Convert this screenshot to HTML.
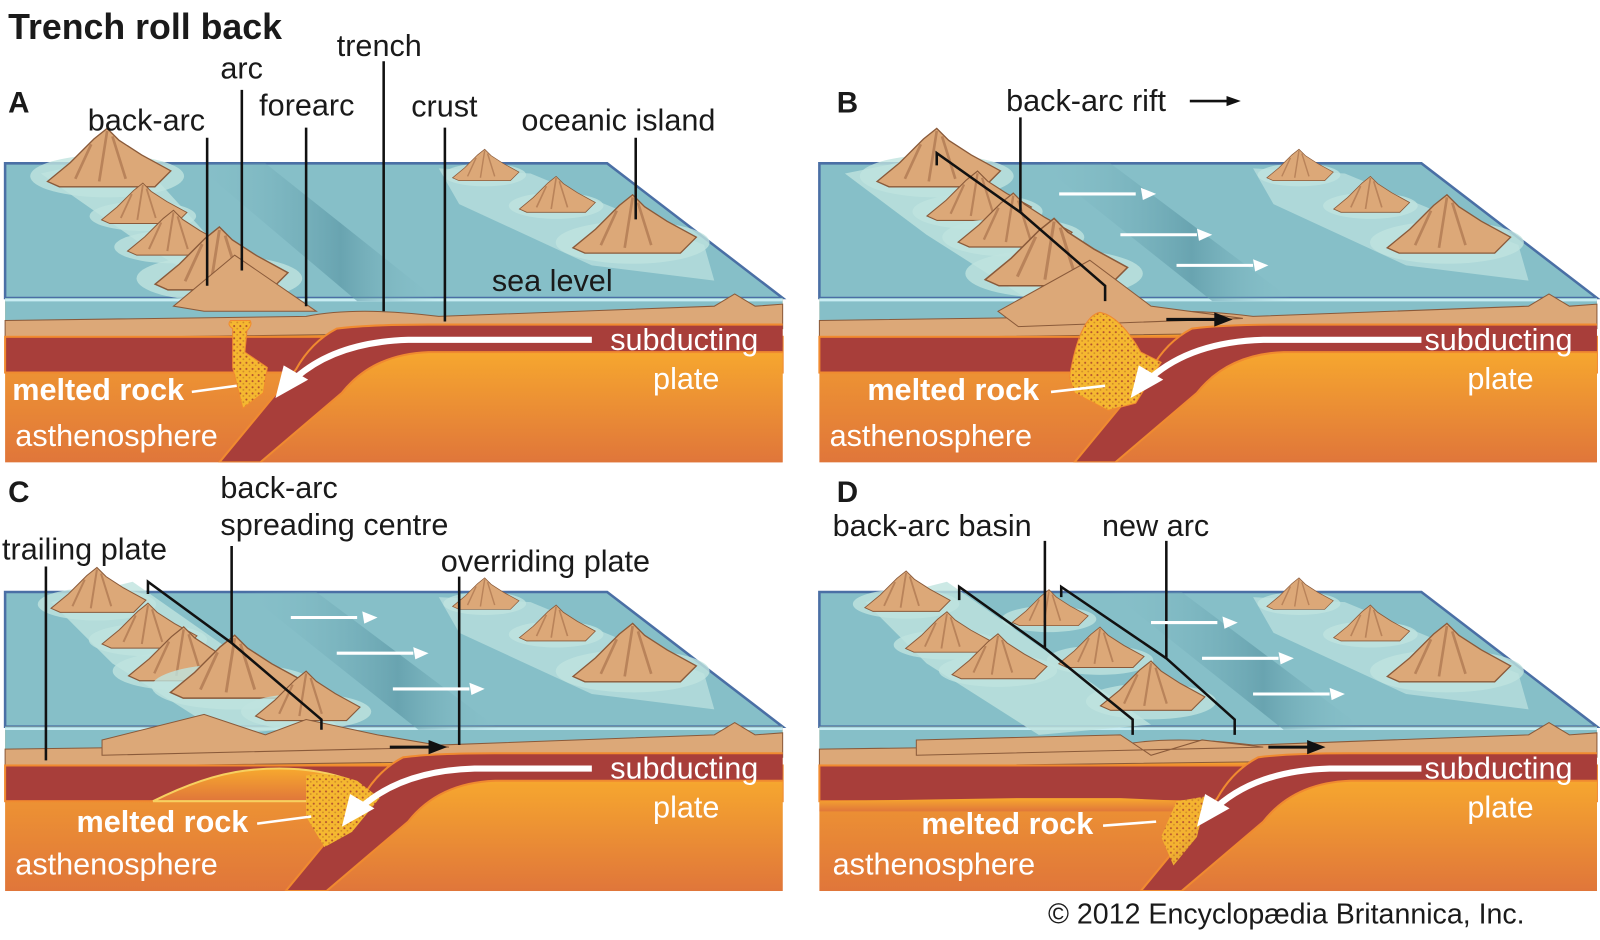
<!DOCTYPE html>
<html><head><meta charset="utf-8"><style>
html,body{margin:0;padding:0;background:#fff;}
svg{display:block}
text{font-family:"Liberation Sans",sans-serif;}
.lb{font-size:30px;fill:#1a1a1a}
.wt{font-size:30px;fill:#fff}
.wb{font-size:30px;fill:#fff;font-weight:bold}
.ld{stroke:#111;stroke-width:2.5;fill:none}
.pl{font-size:29px;font-weight:bold;fill:#1a1a1a}
.wa{stroke:#fff;stroke-width:6;fill:none}
</style></head><body>
<svg width="1600" height="940" viewBox="0 0 1568 921" preserveAspectRatio="none" xmlns="http://www.w3.org/2000/svg">
<defs>
<linearGradient id="ast" x1="0" y1="0" x2="0" y2="1"><stop offset="0" stop-color="#f7a92e"/><stop offset="1" stop-color="#e0763a"/></linearGradient>
<linearGradient id="trg" x1="0" y1="0" x2="1" y2="0"><stop offset="0" stop-color="#86bfc8" stop-opacity="0"/><stop offset="0.6" stop-color="#5c98a6"/><stop offset="1" stop-color="#86bfc8" stop-opacity="0"/></linearGradient>
<pattern id="spk" width="6" height="6" patternUnits="userSpaceOnUse">
  <rect width="6" height="6" fill="#f5b830"/><circle cx="1.5" cy="1.5" r="1" fill="#b4532e"/><circle cx="4.5" cy="4" r="0.9" fill="#d08a2a"/>
</pattern>
<clipPath id="pc"><rect x="5" y="0" width="762" height="453"/></clipPath>
<g id="base">
  <polygon points="5,160 595,160 767,292 5,292" fill="#86bfc8" stroke="#4a6fa5" stroke-width="2.5"/>
  <rect x="5" y="292" width="762" height="161" fill="url(#ast)"/>
  <rect x="5" y="292" width="762" height="30" fill="#86bfc8"/>
  <line x1="5" y1="294" x2="767" y2="294" stroke="#c8ecf2" stroke-width="2.5"/>
  <path d="M5,314 L300,310 Q350,300 430,310 L700,300 L720,288 L740,300 L767,298 L767,322 L5,332 Z" fill="#dca878" stroke="#8a5a3a" stroke-width="1"/>
  <rect x="5" y="330" width="762" height="35" fill="#a83e3a" stroke="#f08a30" stroke-width="2"/>
</g>
<g id="slab">
  <polygon points="330,340 900,340 900,453 240,453" fill="url(#ast)"/>
  <path d="M330,322 Q360,318 420,318 L900,318 L900,345 L420,345 Q365,347 335,385 L255,453 L215,453 L290,362 Q305,335 330,322 Z" fill="#a83e3a" stroke="#f08a30" stroke-width="2"/>
</g>
<g id="isl">
  <ellipse cx="0" cy="2" rx="58" ry="16" fill="#bfe3df" opacity="0.8"/>
  <path d="M-45,6 L-28,-8 L-10,-26 L0,-34 L9,-25 L26,-14 L48,-2 L36,10 L-36,10Z" fill="#dca878" stroke="#8a5a3a" stroke-width="1"/>
  <path d="M0,-32 L-6,6 M4,-28 L14,4 M-12,-22 L-24,4" stroke="#b9835a" stroke-width="2" fill="none"/>
</g>
<g id="ocean">
  <path d="M430,165 L520,170 L690,240 L700,275 L580,260 L450,200 Z" fill="#bfe3df" opacity="0.7"/>
  <use href="#isl" transform="translate(475,170) scale(0.7)"/>
  <use href="#isl" transform="translate(545,200) scale(0.8)"/>
  <use href="#isl" transform="translate(620,235) scale(1.3)"/>
</g>
</defs>

<text x="8" y="38" style="font-size:35px;font-weight:bold;fill:#1a1a1a">Trench roll back</text>

<!-- PANEL A -->
<g>
<use href="#base"/>
<polygon points="190,160 260,160 430,295 350,295" fill="url(#trg)" opacity="0.7"/>
<g clip-path="url(#pc)"><use href="#slab"/></g>
<path d="M40,170 L130,150 L230,260 L300,300 L240,300 L140,240 Z" fill="#bfe3df" opacity="0.8"/>
<use href="#ocean"/>
<use href="#isl" transform="translate(105,170) scale(1.3)"/>
<use href="#isl" transform="translate(140,210) scale(0.9)"/>
<use href="#isl" transform="translate(170,240) scale(1)"/>
<use href="#isl" transform="translate(215,270) scale(1.4)"/>
<path d="M170,300 L230,250 L310,305 L200,305Z" fill="#dca878" stroke="#8a5a3a" stroke-width="1"/>
<path d="M228,322 Q222,318 226,314 L245,314 Q248,318 242,324 L240,345 L262,360 L258,385 L238,400 L228,360 Z" fill="url(#spk)" stroke="#f08a30"/>
<path d="M580,333 L400,333 Q330,335 290,370" class="wa"/><polygon points="270,390 278,358 302,372" fill="#fff"/>
<path d="M376,60 V305 M436,125 V315 M300,125 V300 M237,88 V265 M203,135 V280 M623,135 V215" class="ld"/>
<text x="8" y="110" class="pl">A</text>
<text x="86" y="128" class="lb">back-arc</text>
<text x="216" y="77" class="lb">arc</text>
<text x="254" y="113" class="lb">forearc</text>
<text x="330" y="55" class="lb">trench</text>
<text x="403" y="114" class="lb">crust</text>
<text x="511" y="128" class="lb">oceanic island</text>
<text x="482" y="285" class="lb">sea level</text>
<text x="598" y="343" class="wt">subducting</text>
<text x="640" y="381" class="wt">plate</text>
<text x="12" y="392" class="wb">melted rock</text>
<line x1="188" y1="384" x2="232" y2="378" stroke="#fff" stroke-width="2.5"/>
<text x="15" y="437" class="wt">asthenosphere</text>
</g>

<!-- PANEL B -->
<g transform="translate(798,0)">
<use href="#base"/>
<polygon points="220,160 290,160 470,295 390,295" fill="url(#trg)" opacity="0.7"/>
<g clip-path="url(#pc)"><use href="#slab" transform="translate(40,0)"/></g>
<path d="M30,170 L130,150 L300,300 L220,300 L110,230 Z" fill="#bfe3df" opacity="0.8"/>
<use href="#ocean"/>
<use href="#isl" transform="translate(120,170) scale(1.3)"/>
<use href="#isl" transform="translate(160,205) scale(1.1)"/>
<use href="#isl" transform="translate(195,230) scale(1.2)"/>
<use href="#isl" transform="translate(235,265) scale(1.5)"/>
<path d="M180,305 L270,255 L330,300 L420,312 L200,320Z" fill="#dca878" stroke="#8a5a3a" stroke-width="1"/>
<path d="M250,370 Q260,310 280,306 Q300,310 320,345 L340,355 L315,395 L288,402 L255,385 Z" fill="url(#spk)" stroke="#f08a30"/>
<path d="M595,333 L440,333 Q370,335 330,370" class="wa"/><polygon points="310,390 318,358 342,372" fill="#fff"/>
<path d="M120,162 L120,150 L202,208 L285,280 L285,295 M202,208 V115" class="ld"/>
<path d="M240,190 h75 M300,230 h75 M355,260 h75" stroke="#fff" stroke-width="3"/>
<g fill="#fff"><polygon points="320,184 322,196 335,190"/><polygon points="375,224 377,236 390,230"/><polygon points="430,254 432,266 445,260"/></g>
<path d="M345,313 h50" stroke="#111" stroke-width="3"/><polygon points="410,313 392,306 392,320" fill="#111"/>
<text x="22" y="110" class="pl">B</text>
<text x="188" y="109" class="lb">back-arc rift</text>
<path d="M368,99 h40" stroke="#111" stroke-width="2.5"/><polygon points="418,99 404,94 404,104" fill="#111"/>
<text x="598" y="343" class="wt">subducting</text>
<text x="640" y="381" class="wt">plate</text>
<text x="52" y="392" class="wb">melted rock</text>
<line x1="232" y1="384" x2="285" y2="378" stroke="#fff" stroke-width="2.5"/>
<text x="15" y="437" class="wt">asthenosphere</text>
</g>

<!-- PANEL C -->
<g transform="translate(0,420)">
<use href="#base"/>
<polygon points="240,160 310,160 490,295 410,295" fill="url(#trg)" opacity="0.7"/>
<path d="M150,365 Q200,340 240,335 Q300,328 345,345 L360,365 Z" fill="url(#ast)" stroke="#f7d060" stroke-width="2"/>
<g clip-path="url(#pc)"><use href="#slab" transform="translate(65,0)"/></g>
<path d="M50,170 L130,150 L330,290 L220,300 L110,230 Z" fill="#bfe3df" opacity="0.8"/>
<use href="#ocean"/>
<use href="#isl" transform="translate(95,170) scale(1)"/>
<use href="#isl" transform="translate(145,205) scale(1)"/>
<use href="#isl" transform="translate(180,235) scale(1.2)"/>
<use href="#isl" transform="translate(230,250) scale(1.4)"/>
<use href="#isl" transform="translate(300,275) scale(1.1)"/>
<path d="M100,305 L200,280 L260,300 L300,285 L370,300 L440,312 L100,320Z" fill="#dca878" stroke="#8a5a3a" stroke-width="1"/>
<path d="M300,340 Q320,335 350,345 L372,362 L345,395 L318,410 L300,380 Z" fill="url(#spk)"/>
<path d="M580,333 L465,333 Q395,335 355,370" class="wa"/><polygon points="335,390 343,358 367,372" fill="#fff"/>
<path d="M45,135 V325 M145,162 L145,150 L227,210 V115 M227,210 L315,285 V295 M450,145 V310" class="ld"/>
<path d="M285,185 h65 M330,220 h75 M385,255 h75" stroke="#fff" stroke-width="3"/>
<g fill="#fff"><polygon points="355,179 357,191 370,185"/><polygon points="405,214 407,226 420,220"/><polygon points="460,249 462,261 475,255"/></g>
<path d="M382,312 h45" stroke="#111" stroke-width="3"/><polygon points="438,312 420,305 420,319" fill="#111"/>
<text x="8" y="72" class="pl">C</text>
<text x="216" y="68" class="lb">back-arc</text>
<text x="216" y="104" class="lb">spreading centre</text>
<text x="2" y="128" class="lb">trailing plate</text>
<text x="432" y="140" class="lb">overriding plate</text>
<text x="598" y="343" class="wt">subducting</text>
<text x="640" y="381" class="wt">plate</text>
<text x="75" y="395" class="wb">melted rock</text>
<line x1="252" y1="387" x2="305" y2="380" stroke="#fff" stroke-width="2.5"/>
<text x="15" y="437" class="wt">asthenosphere</text>
</g>

<!-- PANEL D -->
<g transform="translate(798,420)">
<use href="#base"/>
<polygon points="290,160 360,160 540,295 460,295" fill="url(#trg)" opacity="0.7"/>
<path d="M5,365 L200,362 L300,362 L440,368 L440,375 L5,375Z" fill="url(#ast)"/>
<g clip-path="url(#pc)"><use href="#slab" transform="translate(105,0)"/></g>
<path d="M50,170 L130,150 L330,290 L220,300 L110,230 Z" fill="#bfe3df" opacity="0.8"/>
<use href="#ocean"/>
<use href="#isl" transform="translate(90,170) scale(0.9)"/>
<use href="#isl" transform="translate(130,210) scale(0.9)"/>
<use href="#isl" transform="translate(180,235) scale(1)"/>
<use href="#isl" transform="translate(230,185) scale(0.8)"/>
<use href="#isl" transform="translate(280,225) scale(0.9)"/>
<use href="#isl" transform="translate(330,265) scale(1.1)"/>
<path d="M100,305 L300,300 L330,320 L380,305 L440,312 L100,320Z" fill="#dca878" stroke="#8a5a3a" stroke-width="1"/>
<path d="M355,365 L385,360 L375,400 L352,428 L340,400Z" fill="url(#spk)" opacity="0.9"/>
<path d="M595,333 L505,333 Q435,335 395,370" class="wa"/><polygon points="375,390 383,358 407,372" fill="#fff"/>
<path d="M142,168 L142,155 L226,215 V110 M226,215 L312,285 V300 M242,165 L242,155 L345,225 V110 M345,225 L412,285 V300" class="ld"/>
<path d="M330,190 h65 M380,225 h75 M430,260 h75" stroke="#fff" stroke-width="3"/>
<g fill="#fff"><polygon points="400,184 402,196 415,190"/><polygon points="455,219 457,231 470,225"/><polygon points="505,254 507,266 520,260"/></g>
<path d="M445,312 h45" stroke="#111" stroke-width="3"/><polygon points="501,312 483,305 483,319" fill="#111"/>
<text x="22" y="72" class="pl">D</text>
<text x="18" y="105" class="lb">back-arc basin</text>
<text x="282" y="105" class="lb">new arc</text>
<text x="598" y="343" class="wt">subducting</text>
<text x="640" y="381" class="wt">plate</text>
<text x="105" y="397" class="wb">melted rock</text>
<line x1="283" y1="389" x2="335" y2="385" stroke="#fff" stroke-width="2.5"/>
<text x="18" y="437" class="wt">asthenosphere</text>
</g>

<text x="1027" y="905" class="lb" style="font-size:28px">© 2012 Encyclopædia Britannica, Inc.</text>
</svg>
</body></html>
